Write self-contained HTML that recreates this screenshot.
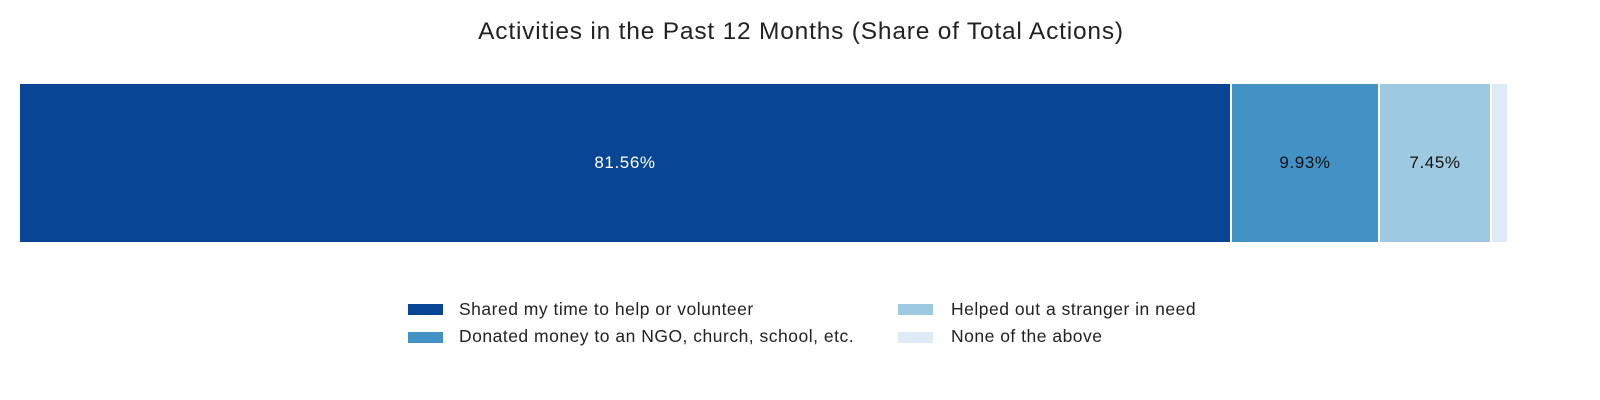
<!DOCTYPE html>
<html><head><style>
body{margin:0;width:1600px;height:400px;background:#fff;font-family:"Liberation Sans",sans-serif;position:relative;overflow:hidden}
.t{position:absolute;top:18px;left:0;width:1602px;text-align:center;font-size:24.5px;letter-spacing:0.8px;color:#222}
.s{position:absolute;top:84px;height:158px;display:flex;align-items:center;justify-content:center;font-size:17px;letter-spacing:0.6px}
.sw{position:absolute;width:35px;height:11px}
.l{position:absolute;font-size:17.5px;letter-spacing:0.5px;color:#222}
</style></head><body>
<div class="t">Activities in the Past 12 Months (Share of Total Actions)</div>
<div class="s" style="left:20px;width:1210px;background:#084594;color:#fff">81.56%</div>
<div class="s" style="left:1232px;width:146px;background:#4292c6;color:#111">9.93%</div>
<div class="s" style="left:1380px;width:110px;background:#9ecae1;color:#111">7.45%</div>
<div class="s" style="left:1492px;width:15px;background:#deebf7"></div>
<div class="sw" style="left:408px;top:304px;background:#084594"></div>
<div class="l" style="left:459px;top:299px">Shared my time to help or volunteer</div>
<div class="sw" style="left:408px;top:332px;background:#4292c6"></div>
<div class="l" style="left:459px;top:326px">Donated money to an NGO, church, school, etc.</div>
<div class="sw" style="left:898px;top:304px;background:#9ecae1"></div>
<div class="l" style="left:951px;top:299px">Helped out a stranger in need</div>
<div class="sw" style="left:898px;top:332px;background:#deebf7"></div>
<div class="l" style="left:951px;top:326px">None of the above</div>
</body></html>
